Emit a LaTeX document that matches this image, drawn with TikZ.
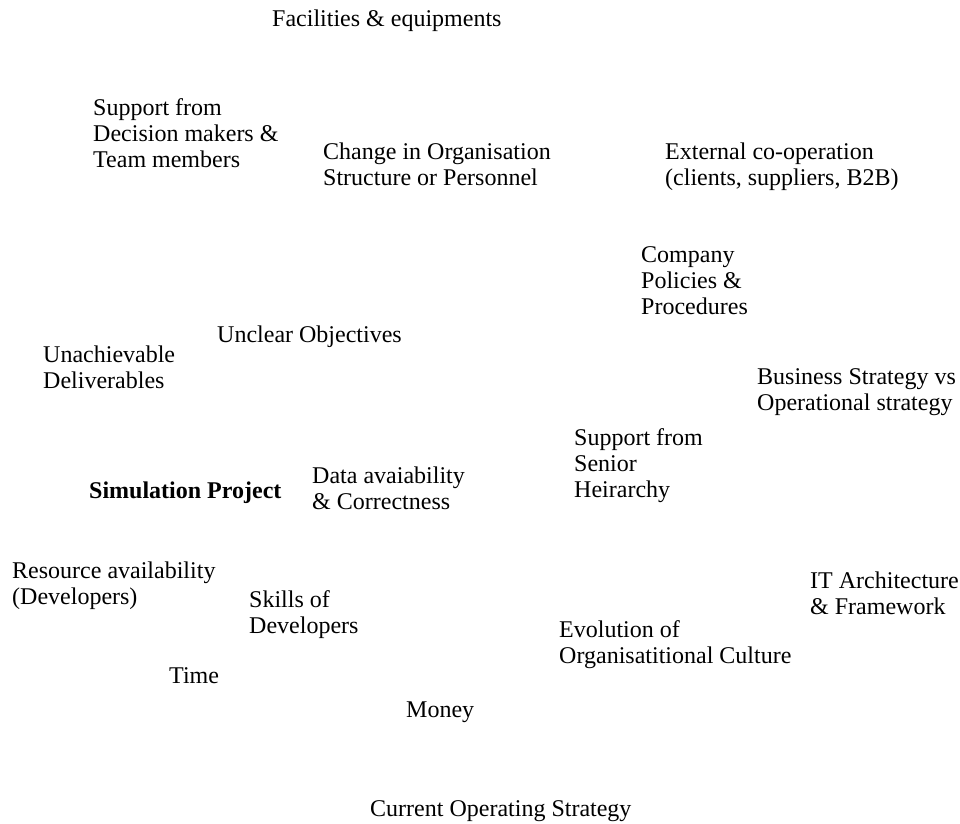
\documentclass[tikz,border=0pt]{standalone}
\usepackage{fontspec}
\setmainfont{Liberation Serif}
\tikzset{
  factor/.style={anchor=base west, inner sep=0pt, align=left, font=\fontsize{24}{26}\selectfont},
  project/.style={factor, font=\fontsize{24}{26}\selectfont\bfseries}
}
\begin{document}
\begin{tikzpicture}[x=1pt,y=-1pt]
\useasboundingbox (0,0) rectangle (960,823);

% Central project
\node[project] (sim) at (89,498) {Simulation Project};

% Organisational factors (top)
\node[factor] (facilities) at (272,26) {Facilities \& equipments};
\node[factor] (support) at (93,167) {Support from\\Decision makers \&\\Team members};
\node[factor] (change) at (323,185) {Change in Organisation\\Structure or Personnel};
\node[factor] (external) at (665,185) {External co-operation\\(clients, suppliers, B2B)};
\node[factor] (policies) at (641,314) {Company\\Policies \&\\Procedures};

% Project factors (left)
\node[factor] (unclear) at (217,342) {Unclear Objectives};
\node[factor] (unachievable) at (43,388) {Unachievable\\Deliverables};
\node[factor] (data) at (312,509) {Data avaiability\\\& Correctness};
\node[factor] (resource) at (12,604) {Resource availability\\(Developers)};
\node[factor] (skills) at (249,633) {Skills of\\Developers};
\node[factor] (time) at (169,683) {Time};
\node[factor] (money) at (406,717) {Money};

% Strategic factors (right)
\node[factor] (business) at (757,410) {Business Strategy vs\\Operational strategy};
\node[factor] (senior) at (574,497) {Support from\\Senior\\Heirarchy};
\node[factor] (itarch) at (810,614) {IT Architecture\\\& Framework};
\node[factor] (culture) at (559,663) {Evolution of\\Organisatitional Culture};
\node[factor] (current) at (370,816) {Current Operating Strategy};

\end{tikzpicture}
\end{document}
